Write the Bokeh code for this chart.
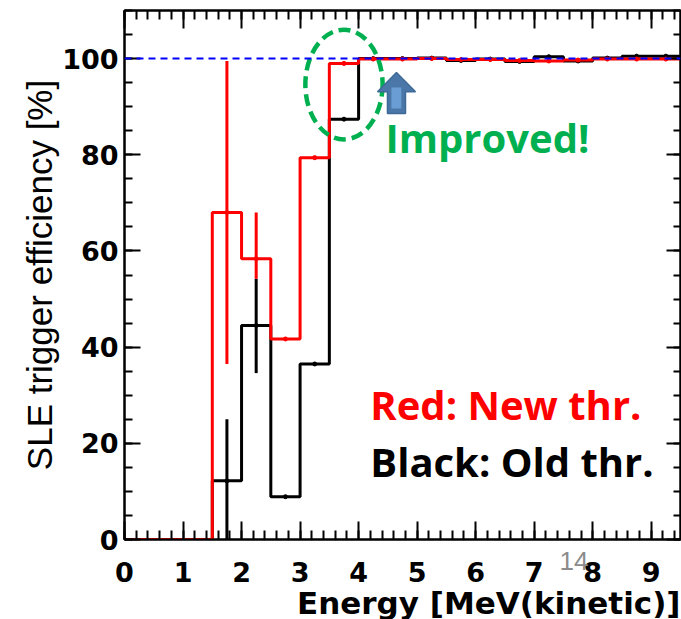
from bokeh.plotting import figure
from bokeh.models import LinearAxis, SingleIntervalTicker, FixedTicker, Label, Range1d, Span, Title
from bokeh.embed import file_html
from bokeh.resources import INLINE

# ---- data ----
bin_left = [0.0, 0.5, 1.0, 1.5, 2.0, 2.5, 3.0, 3.5, 4.0, 4.5,
            5.0, 5.5, 6.0, 6.5, 7.0, 7.5, 8.0, 8.5, 9.0]
bin_right_end = 9.5
bin_center = [0.25, 0.75, 1.25, 1.75, 2.25, 2.75, 3.25, 3.75, 4.25, 4.75,
              5.25, 5.75, 6.25, 6.75, 7.25, 7.75, 8.25, 8.75, 9.25]

red_eff = [0, 0, 0, 68.0, 58.4, 41.7, 79.4, 99.0, 99.9, 99.9,
           100.0, 99.8, 99.8, 99.6, 99.5, 99.7, 99.9, 99.9, 99.9]
red_lo = [0, 0, 0, 36.5, 54.2, 41.3, 79.0, 98.6, 99.6, 99.6,
          99.7, 99.5, 99.5, 99.3, 99.2, 99.4, 99.6, 99.6, 99.6]
red_hi = [0, 0, 0, 99.5, 68.0, 42.1, 79.8, 99.4, 100.2, 100.2,
          100.3, 100.1, 100.1, 99.9, 99.8, 100.0, 100.2, 100.2, 100.2]

black_eff = [0, 0, 0, 12.2, 44.5, 8.9, 36.5, 87.4, 100.0, 100.0,
             100.1, 99.6, 99.9, 99.4, 100.4, 99.5, 100.1, 100.5, 100.5]
black_lo = [0, 0, 0, 0.0, 34.6, 8.6, 36.2, 87.1, 99.7, 99.7,
            99.8, 99.3, 99.6, 99.1, 100.1, 99.2, 99.8, 100.2, 100.2]
black_hi = [0, 0, 0, 25.0, 54.2, 9.2, 36.8, 87.7, 100.3, 100.3,
            100.4, 99.9, 100.2, 99.7, 100.7, 99.8, 100.4, 100.8, 100.8]

reference_level = 100

x_ticks_top = [0, 1, 2, 3, 4, 5, 6, 7, 8, 9]
y_ticks_right = [0, 20, 40, 60, 80, 100]

x_title = "Energy [MeV(kinetic)]"
y_title = "SLE trigger efficiency [%]"
page_number = "14"
page_number_pos = 7.68   # where the slide's page number falls along the energy axis

# ---- figure ----
p = figure(width=681, height=619, x_range=Range1d(0, 9.5), y_range=Range1d(0, 110),
           output_backend="svg", toolbar_location=None,
           min_border_left=124, min_border_right=1, min_border_top=10, min_border_bottom=80)
p.grid.visible = False
p.outline_line_color = "black"
p.outline_line_width = 2
p.background_fill_color = "white"
p.border_fill_color = "white"

tick_font = "DejaVu Sans"

xa = p.xaxis[0]
xa.ticker = SingleIntervalTicker(interval=1, num_minor_ticks=5)
xa.axis_line_width = 2
xa.major_tick_in = 18
xa.major_tick_out = 0
xa.minor_tick_in = 9
xa.minor_tick_out = 0
xa.major_tick_line_width = 2
xa.minor_tick_line_width = 2
xa.major_label_text_font = tick_font
xa.major_label_text_font_style = "bold"
xa.major_label_text_font_size = "27px"
xa.major_label_text_color = "black"
xa.major_label_standoff = 22

ya = p.yaxis[0]
ya.ticker = SingleIntervalTicker(interval=20, num_minor_ticks=4)
ya.axis_line_width = 2
ya.major_tick_in = 16
ya.major_tick_out = 0
ya.minor_tick_in = 8
ya.minor_tick_out = 0
ya.major_tick_line_width = 2
ya.minor_tick_line_width = 2
ya.major_label_text_font = tick_font
ya.major_label_text_font_style = "bold"
ya.major_label_text_font_size = "27px"
ya.major_label_text_color = "black"
ya.major_label_standoff = 6
ya.axis_label = y_title
ya.axis_label_text_font = "Liberation Sans"
ya.axis_label_text_font_style = "normal"
ya.axis_label_text_font_size = "35px"
ya.axis_label_text_color = "black"
ya.axis_label_standoff = 0

top = LinearAxis(ticker=SingleIntervalTicker(interval=1, num_minor_ticks=5),
                 major_tick_in=18, major_tick_out=0, minor_tick_in=9, minor_tick_out=0,
                 axis_line_width=2, major_tick_line_width=2, minor_tick_line_width=2,
                 major_label_overrides={t: "" for t in x_ticks_top},
                 major_label_text_font_size="1px", major_label_standoff=0)
right = LinearAxis(ticker=SingleIntervalTicker(interval=20, num_minor_ticks=4),
                   major_tick_in=14, major_tick_out=0, minor_tick_in=7, minor_tick_out=0,
                   axis_line_width=2, major_tick_line_width=2, minor_tick_line_width=2,
                   major_label_overrides={t: "" for t in y_ticks_right},
                   major_label_text_font_size="1px", major_label_standoff=0)
p.add_layout(top, "above")
p.add_layout(right, "right")

# slide page number: an unmarked helper axis whose single label overlaps the tick-label row
page_axis = LinearAxis(ticker=FixedTicker(ticks=[page_number_pos], minor_ticks=[]),
                       axis_line_color=None, major_tick_line_color=None,
                       minor_tick_line_color=None, major_tick_in=0, major_tick_out=0,
                       minor_tick_in=0, minor_tick_out=0,
                       major_label_overrides={page_number_pos: page_number},
                       major_label_text_font="Liberation Sans",
                       major_label_text_font_size="26px",
                       major_label_text_color="#8C8C8C",
                       major_label_standoff=-33)
p.add_layout(page_axis, "below")

# x-axis title, right aligned like ROOT
p.add_layout(Title(text=x_title, align="right", text_font=tick_font, text_font_style="bold",
                   text_font_size="31px", text_color="black", standoff=-4, offset=0), "below")

# blue dashed 100% line
p.add_layout(Span(location=reference_level, dimension="width", line_color="#0000FF",
                  line_width=2, line_dash="7 5"))

# black (old threshold)
p.step(x=bin_left + [bin_right_end], y=black_eff + [black_eff[-1]], mode="after",
       line_color="black", line_width=3)
p.segment(x0=bin_center[3:], y0=black_lo[3:], x1=bin_center[3:], y1=black_hi[3:],
          line_color="black", line_width=3)
p.scatter(x=bin_center[3:], y=black_eff[3:], size=4, color="black")

# red (new threshold)
p.step(x=bin_left + [bin_right_end], y=red_eff + [red_eff[-1]], mode="after",
       line_color="#FF0000", line_width=3)
p.segment(x0=bin_center[3:], y0=red_lo[3:], x1=bin_center[3:], y1=red_hi[3:],
          line_color="#FF0000", line_width=3)
p.scatter(x=bin_center[3:], y=red_eff[3:], size=4, color="#FF0000")

# green dashed ellipse
p.ellipse(x=3.75, y=94.6, width=1.32, height=22.8, fill_alpha=0,
          line_color="#00B050", line_width=4.5, line_dash="12 6")

# blue arrow
p.patch(x=[4.493, 4.493, 4.323, 4.647, 4.972, 4.801, 4.801],
        y=[88.6, 93.1, 93.1, 97.1, 93.1, 93.1, 88.6],
        fill_color="#4A76A8", line_color="#3F6A98", line_width=1.5)
p.quad(left=4.56, right=4.73, bottom=89.6, top=94.0, fill_color="#6A9DD3", line_alpha=0)

ann_font = "Open Sans"
p.add_layout(Label(x=4.46, y=83.6, text="Improved!", text_color="#00B050",
                   text_font=ann_font, text_font_style="bold", text_font_size="40px",
                   text_baseline="alphabetic"))
p.add_layout(Label(x=4.20, y=28.1, text="Red: New thr.", text_color="#FF0000",
                   text_font=ann_font, text_font_style="bold", text_font_size="40px",
                   text_baseline="alphabetic"))
p.add_layout(Label(x=4.20, y=16.3, text="Black: Old thr.", text_color="black",
                   text_font=ann_font, text_font_style="bold", text_font_size="40px",
                   text_baseline="alphabetic"))

open("out.html", "w").write(file_html(p, INLINE))
